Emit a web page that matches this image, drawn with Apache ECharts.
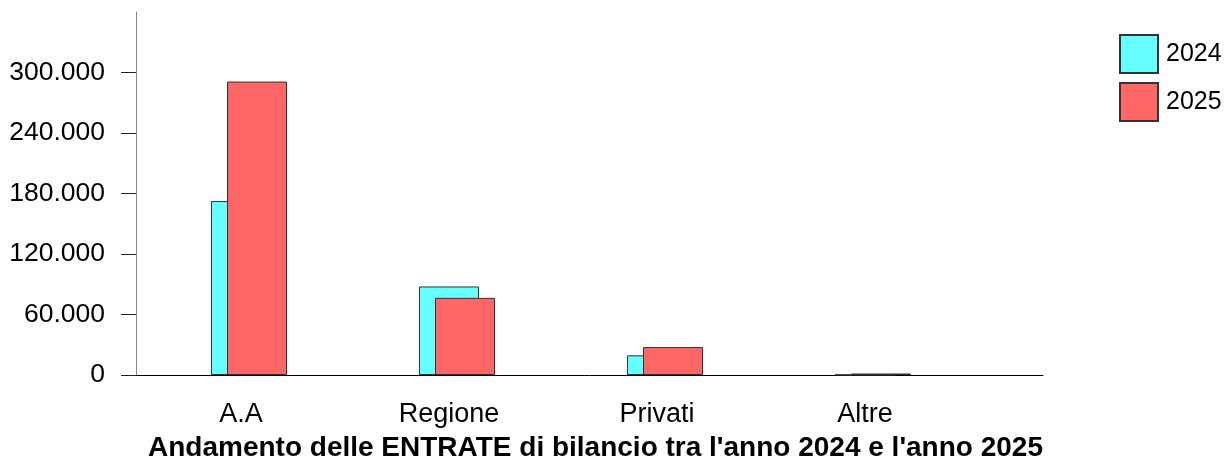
<!DOCTYPE html>
<html>
<head>
<meta charset="utf-8">
<script src="https://cdn.jsdelivr.net/npm/echarts@6/dist/echarts.min.js"></script>
<style>html,body{margin:0;padding:0;background:#fff}#c{width:1225px;height:461px}</style>
</head>
<body>
<div id="c"></div>
<script>
const categories = ['A.A', 'Regione', 'Privati', 'Altre'];
const seriesNames = ['2024', '2025'];
const values2024 = [172500, 87800, 19500, 300];
const values2025 = [291000, 76500, 27700, 1500];
const yTicks = [0, 60000, 120000, 180000, 240000, 300000];
const titleText = "Andamento delle ENTRATE di bilancio tra l'anno 2024 e l'anno 2025";

function fmt(v) { return String(v).replace(/\B(?=(\d{3})+(?!\d))/g, '.'); }
const FONT = '"Liberation Sans", Arial, sans-serif';

const chart = echarts.init(document.getElementById('c'), null, {renderer: 'canvas'});
chart.setOption({
  animation: false,
  backgroundColor: '#ffffff',
  title: {
    text: titleText, left: 148, top: 434, padding: 0,
    textStyle: {fontFamily: FONT, fontSize: 28, fontWeight: 'bold', color: '#000'}
  },
  legend: {
    orient: 'vertical', left: 1119, top: 34, padding: 0, itemWidth: 38, itemHeight: 38, itemGap: 8,
    icon: 'rect', data: seriesNames,
    textStyle: {fontFamily: FONT, fontSize: 25, color: '#000', padding: [0, 0, 0, 3]}
  },
  grid: [
    {left: 136, right: 182, top: 12, bottom: 86},
    {left: 145, width: 832, top: 12, bottom: 86}
  ],
  xAxis: [
    {gridIndex: 0, type: 'value', min: 0, max: 1,
     axisLine: {show: true, lineStyle: {color: '#000', width: 1}},
     axisTick: {show: false}, axisLabel: {show: false}, splitLine: {show: false}},
    {gridIndex: 1, type: 'category', data: categories,
     axisLine: {show: false}, axisTick: {show: false},
     axisLabel: {fontFamily: FONT, fontSize: 27, color: '#000', margin: 26, padding: [0, 16, 0, 0]}}
  ],
  yAxis: [
    {gridIndex: 0, type: 'value', min: 0, max: 360000, interval: 60000,
     axisLine: {show: true, lineStyle: {color: '#888', width: 1}},
     axisTick: {show: true, length: 15, lineStyle: {color: '#222'}, customValues: yTicks},
     axisLabel: {fontFamily: FONT, fontSize: 26.5, color: '#000', margin: 31, customValues: yTicks,
                 formatter: v => fmt(v)},
     splitLine: {show: false}},
    {gridIndex: 1, type: 'value', min: 0, max: 360000, show: false, splitLine: {show: false}}
  ],
  series: [
    {name: seriesNames[0], type: 'bar', xAxisIndex: 1, yAxisIndex: 1, data: values2024,
     barWidth: 60, barGap: '-73.3%',
     itemStyle: {color: '#66FFFF', borderColor: '#333', borderWidth: 1}},
    {name: seriesNames[1], type: 'bar', xAxisIndex: 1, yAxisIndex: 1, data: values2025,
     barWidth: 60, barGap: '-73.3%',
     itemStyle: {color: '#FF6666', borderColor: '#333', borderWidth: 1}}
  ]
});
</script>
</body>
</html>
